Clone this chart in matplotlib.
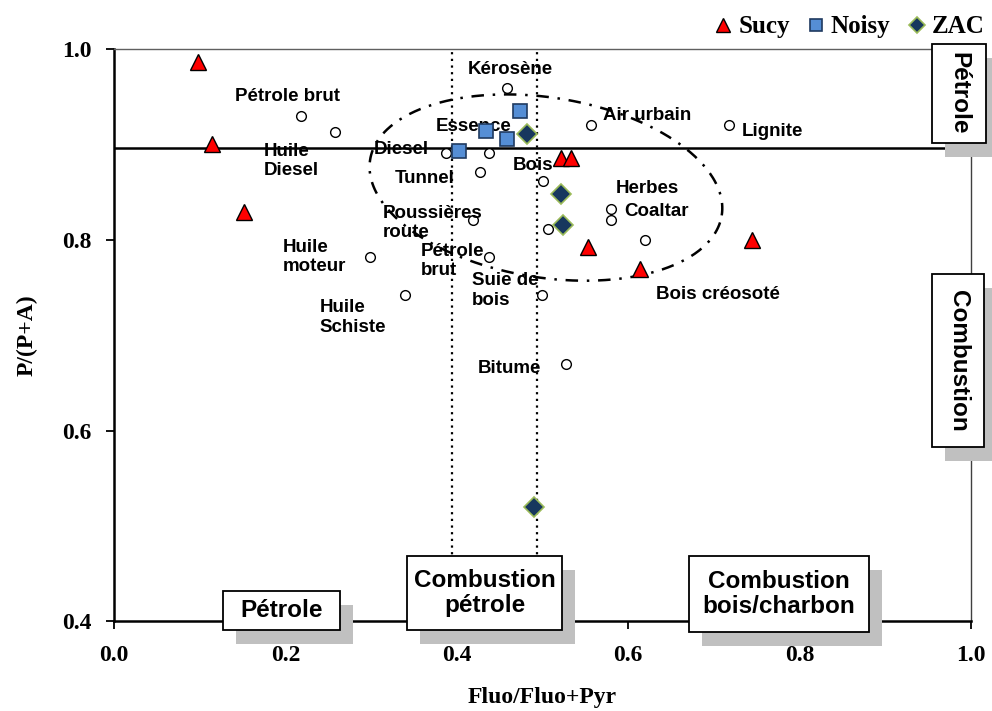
import numpy as np
import matplotlib
matplotlib.use("Agg")
import matplotlib.pyplot as plt
from matplotlib.patches import Rectangle

# sample points
sucy_x = [0.098, 0.114, 0.152, 0.522, 0.533, 0.553, 0.614, 0.744]
sucy_y = [0.987, 0.901, 0.829, 0.886, 0.886, 0.793, 0.770, 0.800]

noisy_x = [0.474, 0.434, 0.458, 0.403]
noisy_y = [0.935, 0.914, 0.906, 0.893]

zac_x = [0.482, 0.522, 0.524, 0.490]
zac_y = [0.911, 0.848, 0.816, 0.520]

# reference sources (open circles)
ref_x = [0.459, 0.218, 0.258, 0.387, 0.437, 0.427, 0.500, 0.419, 0.507, 0.299,
         0.438, 0.339, 0.499, 0.557, 0.718, 0.580, 0.580, 0.620, 0.528]
ref_y = [0.959, 0.930, 0.913, 0.891, 0.891, 0.871, 0.862, 0.821, 0.812, 0.782,
         0.782, 0.742, 0.742, 0.921, 0.921, 0.833, 0.821, 0.800, 0.670]

ref_labels = [
    ("Kérosène", 0.413, 0.979),
    ("Pétrole brut", 0.141, 0.950),
    ("Huile\nDiesel", 0.175, 0.883),
    ("Diesel", 0.303, 0.895),
    ("Essence", 0.375, 0.919),
    ("Tunnel", 0.328, 0.865),
    ("Bois", 0.465, 0.878),
    ("Poussières\nroute", 0.314, 0.818),
    ("Huile\nmoteur", 0.197, 0.782),
    ("Pétrole\nbrut", 0.358, 0.778),
    ("Suie de\nbois", 0.418, 0.747),
    ("Huile\nSchiste", 0.240, 0.719),
    ("Bitume", 0.425, 0.665),
    ("Air urbain", 0.571, 0.931),
    ("Lignite", 0.732, 0.914),
    ("Herbes", 0.586, 0.854),
    ("Coaltar", 0.595, 0.830),
    ("Bois créosoté", 0.632, 0.743),
]

p_limit = 0.896
fluo_limits = [0.394, 0.493]

x_ticks = [0.0, 0.2, 0.4, 0.6, 0.8, 1.0]
y_ticks = [0.4, 0.6, 0.8, 1.0]

serif = "Liberation Serif"
sans = "Liberation Sans"

fig = plt.figure(figsize=(9.92, 7.11), dpi=100)
ax = fig.add_axes([114 / 992, (711 - 621.4) / 711, 857 / 992, 572.1 / 711])
ax.set_xlim(0, 1)
ax.set_ylim(0.4, 1.0)

# limit lines
ax.axhline(p_limit, color="black", lw=1.8, zorder=2)
for xv in fluo_limits:
    ax.axvline(xv, color="black", lw=1.6, ls=(0, (1, 2)), zorder=2)

# dash-dot envelope around the samples
fig.canvas.draw()
bb = ax.get_window_extent()
sx = bb.width / 1.0
sy = bb.height / 0.6
t = np.linspace(0, 2 * np.pi, 400)
a, b, th = 178, 90, np.deg2rad(-9)
ex = 0.504 + (a * np.cos(t) * np.cos(th) - b * np.sin(t) * np.sin(th)) / sx
ey = 0.855 + (a * np.cos(t) * np.sin(th) + b * np.sin(t) * np.cos(th)) / sy
ax.plot(ex, ey, color="black", lw=1.8, ls=(0, (5, 3.5, 1, 3.5)), zorder=2)

ax.plot(ref_x, ref_y, "o", ms=7, mfc="white", mec="black", mew=1, ls="none", zorder=3)

for txt, x, y in ref_labels:
    ax.text(x, y, txt, fontsize=13.5, fontweight="bold", family=sans,
            ha="left", va="center", zorder=3)

ax.plot(sucy_x, sucy_y, "^", ms=12, mfc="#FF0000", mec="black", mew=1,
        ls="none", zorder=4, label="Sucy")
ax.plot(noisy_x, noisy_y, "s", ms=10, mfc="#558ED5", mec="#1F3A60", mew=1.2,
        ls="none", zorder=4, label="Noisy")
ax.plot(zac_x, zac_y, "D", ms=10.5, mfc="#17375E", mec="#9BBB59", mew=1.2,
        ls="none", zorder=4, label="ZAC")


def shadow_box(x0, y0, w, h, text, rot=0, size=17.5):
    dx, dy = 13 / 857, -14 / 572.1
    ax.add_patch(Rectangle((x0 + dx, y0 + dy), w, h, transform=ax.transAxes,
                           facecolor="#C0C0C0", edgecolor="none",
                           clip_on=False, zorder=6))
    ax.add_patch(Rectangle((x0, y0), w, h, transform=ax.transAxes,
                           facecolor="white", edgecolor="black", lw=1.3,
                           clip_on=False, zorder=7))
    ax.text(x0 + w / 2, y0 + h / 2, text, transform=ax.transAxes, rotation=rot,
            ha="center", va="center", fontsize=size, fontweight="bold",
            family=sans, zorder=8, linespacing=1.1)


shadow_box(0.9545, 0.8362, 0.0630, 0.1730, "Pétrole", rot=-90)
shadow_box(0.9545, 0.3048, 0.0607, 0.3024, "Combustion", rot=-90)
shadow_box(0.1272, -0.0150, 0.1365, 0.0682, "Pétrole")
shadow_box(0.3419, -0.0150, 0.1809, 0.1293, "Combustion\npétrole")
shadow_box(0.6709, -0.0185, 0.2100, 0.1328, "Combustion\nbois/charbon")

# axes styling
ax.spines["left"].set_linewidth(1.8)
ax.spines["bottom"].set_linewidth(1.8)
ax.spines["top"].set_linewidth(1.0)
ax.spines["top"].set_color("#606060")
ax.spines["right"].set_linewidth(1.0)
ax.spines["right"].set_color("#404040")

ax.set_xticks(x_ticks)
ax.set_yticks(y_ticks)
ax.set_xticklabels([f"{v:.1f}" for v in x_ticks])
ax.set_yticklabels([f"{v:.1f}" for v in y_ticks])
ax.tick_params(axis="x", direction="out", length=6, width=1.3, pad=11)
ax.tick_params(axis="y", direction="out", length=6, width=1.3, pad=10)
for lab in ax.get_xticklabels() + ax.get_yticklabels():
    lab.set_family(serif)
    lab.set_fontweight("bold")
    lab.set_fontsize(17)

ax.set_xlabel("Fluo/Fluo+Pyr", family=serif, fontweight="bold", fontsize=17, labelpad=15)
ax.set_ylabel("P/(P+A)", family=serif, fontweight="bold", fontsize=17, labelpad=18)

ax.legend(loc="center right", bbox_to_anchor=(1.016, 1.039), ncol=3,
          frameon=False, borderpad=0, borderaxespad=0, handlelength=0.9,
          handletextpad=0.15, columnspacing=0.6, markerscale=0.8,
          prop={"family": serif, "weight": "bold", "size": 18})

fig.savefig("out.png", dpi=100)
